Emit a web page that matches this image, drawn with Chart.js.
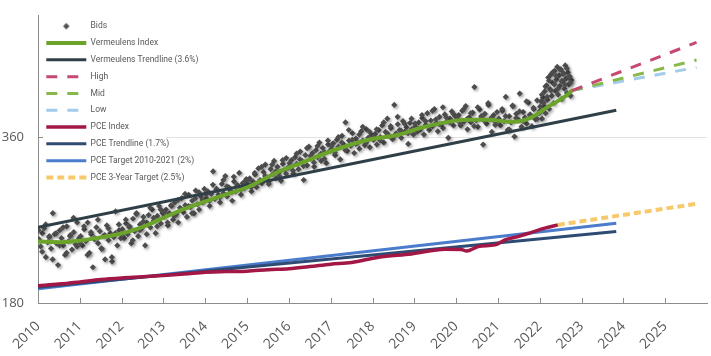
<!DOCTYPE html>
<html><head><meta charset="utf-8">
<script src="https://cdn.jsdelivr.net/npm/chart.js@4.4.1/dist/chart.umd.min.js"></script>
<style>html,body{margin:0;padding:0;background:#fff}#wrap{width:711px;height:356px}</style>
</head><body><div id="wrap"><canvas id="c" width="711" height="356"></canvas></div>
<script>
// ---- tick labels ----
const xTickYears = [2010,2011,2012,2013,2014,2015,2016,2017,2018,2019,2020,2021,2022,2023,2024,2025];
const yTickValues = [180, 360];

// ---- Vermeulens Index ----
const vermIndexX = [2010.0,2010.57,2010.98,2011.38,2011.77,2012.17,2012.57,2012.89,2013.44,2014.25,2015.04,2015.75,2016.30,2017.11,2017.90,2018.62,2019.16,2019.98,2020.36,2020.76,2021.24,2021.41,2021.79,2022.20,2022.60,2022.77];
const vermIndexY = [232.7,232.1,233.4,236.0,238.6,242.6,248.5,254.8,265.7,279.4,292.6,311.6,323.5,341.6,356.2,363.8,374.4,385.8,387.4,387.4,384.2,384.2,390.7,409.1,426.6,437.4];

// ---- Vermeulens trendline (3.6%) ----
const vermTrendX = [2010.0, 2023.83];
const vermTrendY = [247.1, 402.9];

// ---- projections ----
const projX = [2022.77, 2025.75];
const highY = [437.4, 535];
const midY  = [437.4, 497];
const lowY  = [437.4, 482];

// ---- PCE Index ----
const pceX = [2010.0,2010.5,2011.0,2011.5,2012.0,2012.5,2013.0,2013.5,2014.0,2014.5,2015.0,2015.5,2016.0,2016.5,2017.0,2017.5,2018.14,2018.93,2019.74,2020.12,2020.25,2020.53,2020.93,2021.17,2021.48,2021.79,2022.12,2022.43];
const pceY = [193.5,194.8,196.6,198.6,199.9,200.8,201.9,203.1,204.6,205.3,205.6,206.9,207.8,209.6,211.7,213.2,218.0,221.0,225.4,225.2,223.6,227.9,229.5,234.3,237.6,241.6,246.1,249.5];

// ---- PCE trendline (1.7%), target 2%, 3-year target 2.5% ----
const pceTrendX = [2010.0, 2023.83];
const pceTrendY = [192.2, 242.6];
const pceTargetX = [2010.0, 2023.83];
const pceTargetY = [191.0, 251.2];
const pce3yX = [2022.43, 2025.75];
const pce3yY = [249.5, 272.5];

// ---- Bids (values per year, spread across the year) ----
const bidYears = [2010,2011,2012,2013,2014,2015,2016,2017,2018,2019,2020,2021,2022];
const bidValuesA = [
 [235,228,241,246,218,232,238,226,262,240,231,211,244,236,229,220,248,233,239,225,242,230,252,236],
 [238,229,245,233,252,222,240,209,236,247,231,243,226,238,216,249,234,241,214,237,264,229,244,236],
 [245,236,251,240,248,231,256,243,262,238,250,246,258,229,252,260,247,266,254,241,259,270,251,262],
 [258,266,249,262,270,255,274,261,252,268,279,263,271,258,283,269,276,262,288,272,266,281,274,290],
 [279,287,270,284,312,278,290,283,274,296,285,306,281,292,288,276,299,287,294,310,283,297,291,302],
 [295,303,287,299,308,292,316,301,297,311,321,304,299,315,308,326,303,318,311,300,322,314,330,317],
 [318,327,309,331,322,315,339,326,301,334,320,346,329,337,318,341,331,352,326,344,338,323,349,340],
 [342,351,334,356,346,328,362,349,383,340,355,347,366,337,358,352,343,369,355,348,372,359,345,363],
 [356,365,349,371,360,378,352,368,389,362,374,357,412,366,380,371,359,385,368,375,350,382,372,364],
 [376,368,383,372,390,364,379,398,371,386,377,405,382,369,392,380,374,396,384,359,389,401,378,393],
 [387,395,378,402,384,410,372,391,383,399,444,386,376,404,390,349,397,381,412,388,368,395,384,400],
 [389,378,402,385,426,371,393,383,410,361,397,388,432,376,400,391,381,416,394,377,405,388,420,398],
 [402,418,389,425,410,436,398,447,421,462,405,440,468,428,452,415,475,437,458,483,430,466,446,478,422,455,470,441,486,460,433,472,449,464,428,457]
];
const bidValuesB = [
 [244,223,250,237,216,241,229,247,222,238,257,228],
 [231,248,220,242,235,255,226,239,246,218,241,250],
 [239,255,247,234,261,244,253,240,268,257,248,266],
 [263,252,271,259,277,266,284,270,262,279,286,277],
 [283,276,295,289,280,301,293,286,305,295,289,298],
 [301,292,310,298,318,306,296,321,312,306,327,309],
 [323,313,336,328,319,344,333,324,347,336,329,355],
 [347,338,360,352,341,371,356,350,364,376,352,368],
 [361,372,355,383,366,377,362,392,370,381,366,389],
 [381,373,395,385,376,402,388,380,408,391,383,397],
 [392,381,405,389,398,377,408,393,385,415,391,379],
 [384,405,393,372,411,390,401,385,418,396,407,389],
 [409,430,416,445,426,456,438,472,449,465,441,478,455,469,448,480,462,452]
];

const pts = (xs, ys) => xs.map((x, i) => ({x, y: ys[i]}));
const lastX = vermIndexX[vermIndexX.length - 1];
const bidPoints = [];
[[bidValuesA, 0.5], [bidValuesB, 0.2]].forEach(([set, off]) => {
  bidYears.forEach((yr, j) => {
    const vals = set[j];
    const span = Math.min(1, lastX - yr);
    vals.forEach((v, k) => bidPoints.push({x: yr + (k + off) / vals.length * span, y: v}));
  });
});

const FONT = "'Open Sans', 'Noto Sans', sans-serif";
const LFONT = "Roboto, 'Open Sans', sans-serif";
const GREY = '#595959';

const bidIcon = document.createElement('canvas');
bidIcon.width = 8; bidIcon.height = 8;
(function(){ const g = bidIcon.getContext('2d'); g.fillStyle = '#4f4f4f'; g.beginPath();
  g.moveTo(4,0.8); g.lineTo(7.2,4); g.lineTo(4,7.2); g.lineTo(0.8,4); g.closePath(); g.fill(); })();

const lineDs = (label, data, color, width, extra) => Object.assign({
  label, data, borderColor: color, backgroundColor: color, borderWidth: width,
  pointRadius: 0, pointHoverRadius: 0, pointStyle: 'line', fill: false, tension: 0
}, extra || {});

const datasets = [
  { label: 'Bids', data: bidPoints, showLine: false, pointStyle: 'rectRot', pointRadius: 3.1,
    pointBackgroundColor: '#4d4d4d', backgroundColor: '#4d4d4d', borderColor: '#4d4d4d', pointBorderWidth: 0, borderWidth: 0, order: 10 },
  lineDs('Vermeulens Index', pts(vermIndexX, vermIndexY), '#6BA32B', 4, {cubicInterpolationMode: 'monotone', order: 1, borderCapStyle: 'round'}),
  lineDs('Vermeulens Trendline (3.6%)', pts(vermTrendX, vermTrendY), '#2F3F47', 3, {order: 5}),
  lineDs('High', pts(projX, highY), '#C6496F', 3, {borderDash: [11, 10]}),
  lineDs('Mid', pts(projX, midY), '#86B84A', 3, {borderDash: [11, 10]}),
  lineDs('Low', pts(projX, lowY), '#A3CBEA', 3, {borderDash: [11, 10]}),
  lineDs('PCE Index', pts(pceX, pceY), '#A31746', 3.5, {cubicInterpolationMode: 'monotone'}),
  lineDs('PCE Trendline (1.7%)', pts(pceTrendX, pceTrendY), '#2E4B73', 3),
  lineDs('PCE Target 2010-2021 (2%)', pts(pceTargetX, pceTargetY), '#4A7CCB', 3),
  lineDs('PCE 3-Year Target (2.5%)', pts(pce3yX, pce3yY), '#F7C96B', 4, {borderDash: [7, 4]})
];

const decor = {
  id: 'decor',
  afterLayout(chart) {
    const lg = chart.legend;
    if (lg) { const h = lg.bottom - lg.top; lg.top = chart.chartArea.top - 1.3; lg.bottom = lg.top + h; }
  },
  beforeDatasetsDraw(chart) {
    const {ctx, chartArea: a, scales: {x, y}} = chart;
    ctx.save();
    ctx.lineWidth = 1;
    ctx.strokeStyle = '#e2e2e2';
    ctx.beginPath();
    yTickValues.forEach(v => { if (v <= y.min) return; const py = Math.round(y.getPixelForValue(v)) + 0.5;
      ctx.moveTo(166, py); ctx.lineTo(a.right, py); });
    ctx.stroke();
    ctx.strokeStyle = '#8c8c8c';
    ctx.beginPath();
    xTickYears.forEach(v => { if (v <= x.min) return; const px = Math.round(x.getPixelForValue(v)) + 0.5;
      ctx.moveTo(px, a.bottom); ctx.lineTo(px, a.bottom - 5); });
    yTickValues.forEach(v => { if (v <= y.min) return; const py = Math.round(y.getPixelForValue(v)) + 0.5;
      ctx.moveTo(a.left, py); ctx.lineTo(a.left + 5, py); });
    ctx.stroke();
    ctx.restore();
  },
  beforeDatasetDraw(chart, args) {
    if (args.index === 0) { const c = chart.ctx; c.save(); c.shadowColor = 'rgba(0,0,0,0.4)'; c.shadowBlur = 3; c.shadowOffsetX = 1.5; c.shadowOffsetY = 1.5; }
  },
  afterDatasetDraw(chart, args) { if (args.index === 0) chart.ctx.restore(); }
};

new Chart(document.getElementById('c'), {
  type: 'line',
  data: { datasets },
  plugins: [decor],
  options: {
    responsive: false, animation: false, events: [],
    layout: { padding: { left: 0, top: 15, right: 2, bottom: 0 } },
    plugins: {
      tooltip: { enabled: false },
      legend: {
        position: 'chartArea', align: 'start',
        labels: {
          usePointStyle: true, pointStyleWidth: 40, boxHeight: 4, padding: 8.3,
          color: GREY, font: { family: LFONT, size: 8.5 },
          generateLabels(chart) {
            return chart.data.datasets.map((ds, i) => ({
              text: ds.label, datasetIndex: i, fontColor: GREY, hidden: false,
              strokeStyle: ds.borderColor, fillStyle: ds.backgroundColor,
              lineWidth: i === 0 ? 0 : ds.borderWidth, lineDash: ds.borderDash || [],
              lineCap: 'butt', pointStyle: i === 0 ? bidIcon : 'line'
            }));
          }
        }
      }
    },
    scales: {
      x: {
        type: 'linear', min: 2010, max: 2026,
        grid: { display: false, drawTicks: false },
        border: { color: '#8c8c8c', width: 1 },
        afterBuildTicks(s) { s.ticks = xTickYears.map(v => ({ value: v })); },
        afterFit(s) { s.height = 53; s.paddingLeft = 0; s.paddingRight = 0; },
        ticks: { autoSkip: false, minRotation: 45, maxRotation: 45, padding: 15, color: GREY,
          font: { family: FONT, size: 14 }, callback: v => String(v) }
      },
      y: {
        type: 'logarithmic', min: 180, max: 600,
        grid: { display: false, drawTicks: false },
        border: { color: '#8c8c8c', width: 1 },
        afterBuildTicks(s) { s.ticks = yTickValues.map(v => ({ value: v })); },
        afterFit(s) { s.width = 38; s.paddingTop = 0; s.paddingBottom = 0; },
        ticks: { padding: 14, color: GREY, font: { family: FONT, size: 13 }, callback: v => String(v) }
      }
    }
  }
});
</script></body></html>
